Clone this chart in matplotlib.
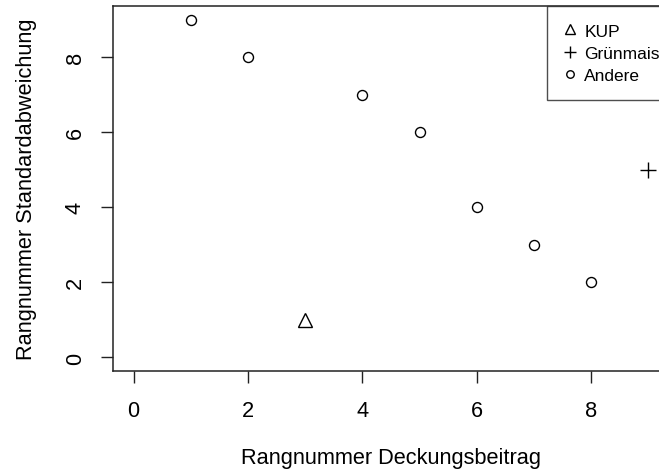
import matplotlib.pyplot as plt

# Daten: Rangnummern je Kultur
kup_x = [3]
kup_y = [1]
mais_x = [9]
mais_y = [5]
andere_x = [1, 2, 4, 5, 6, 7, 8]
andere_y = [9, 8, 7, 6, 4, 3, 2]

x_ticks = [0, 2, 4, 6, 8]
y_ticks = [0, 2, 4, 6, 8]

plt.rcParams["font.family"] = ["Liberation Sans", "DejaVu Sans"]

W, H = 659, 477
fig = plt.figure(figsize=(W / 100, H / 100), dpi=100)
# Plotbereich (rechter Rand ragt aus dem Bild heraus, wie im Original)
left, right, top, bottom = 113, 669, 7, 372
ax = fig.add_axes([left / W, 1 - bottom / H, (right - left) / W, (bottom - top) / H])

mk = dict(linestyle="none", color="black", markerfacecolor="none")
ax.plot(kup_x, kup_y, marker="^", markersize=10, markeredgewidth=1.0, label="KUP", **mk)
ax.plot(mais_x, mais_y, marker="+", markersize=11, markeredgewidth=1.0, label="Grünmais", **mk)
ax.plot(andere_x, andere_y, marker="o", markersize=7.2, markeredgewidth=1.0, label="Andere", **mk)

ax.set_xlim(-0.36, 9.36)
ax.set_ylim(-0.36, 9.36)
ax.set_xticks(x_ticks)
ax.set_yticks(y_ticks)
ax.tick_params(direction="out", length=8.6, width=1.0, labelsize=15.7, color="#222222")
ax.tick_params(axis="x", pad=12)
ax.tick_params(axis="y", pad=11)
for lab in ax.get_yticklabels():
    lab.set_rotation(90)
    lab.set_va("center")

for s in ax.spines.values():
    s.set_linewidth(1.1)
    s.set_color("#222222")

ax.set_xlabel("Rangnummer Deckungsbeitrag", fontsize=15.7, va="center")
ax.xaxis.set_label_coords(0.5, -0.238)
ax.set_ylabel("Rangnummer Standardabweichung", fontsize=15.7, va="center", ha="center")
ax.yaxis.set_label_coords(-0.155, 0.5)

leg = ax.legend(loc="upper left", bbox_to_anchor=((547 - left) / (right - left), 1.0),
                borderaxespad=0, fontsize=12.5, markerscale=0.75, frameon=True,
                fancybox=False, handlelength=0.7, handletextpad=0.45,
                labelspacing=0.4, borderpad=1.0)
leg.get_frame().set_edgecolor("#222222")
leg.get_frame().set_linewidth(1.0)

fig.savefig("out.png", dpi=100)
